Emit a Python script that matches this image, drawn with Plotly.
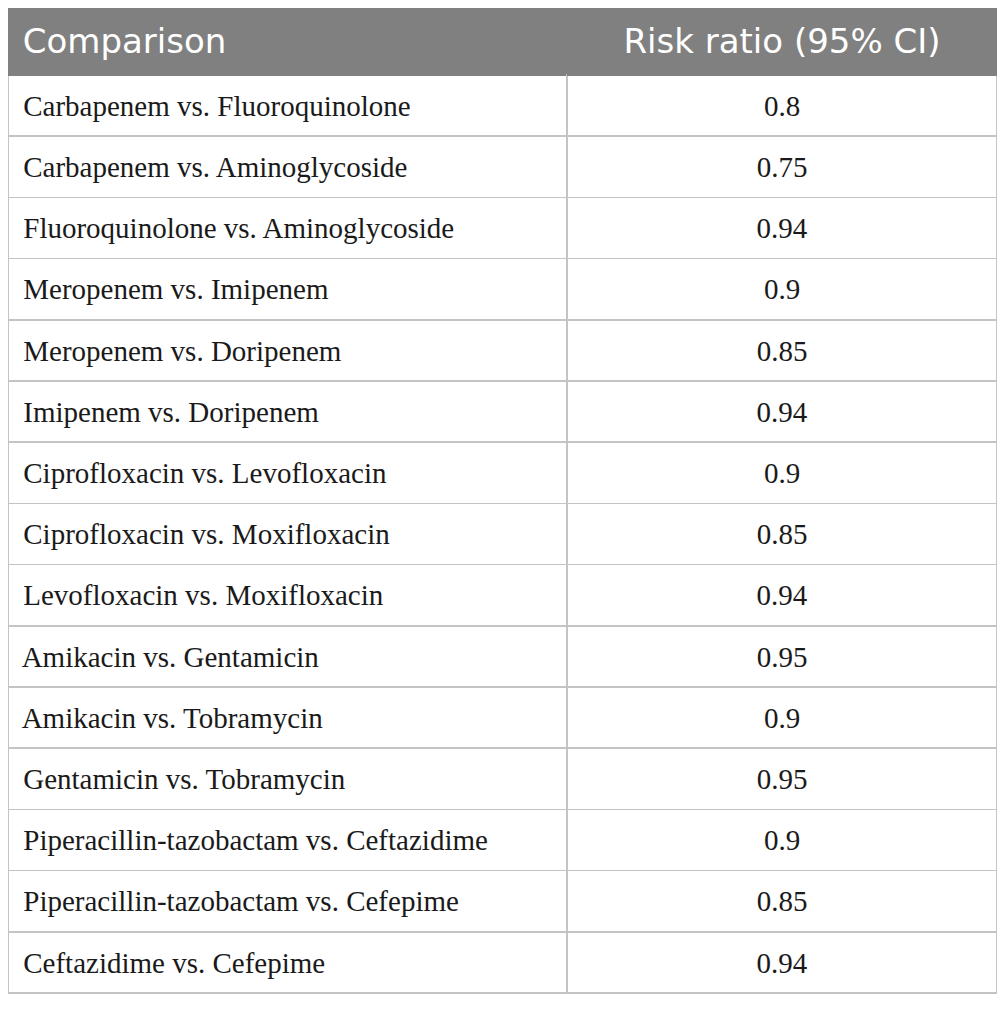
import plotly.graph_objects as go

header_labels = ["Comparison", "Risk ratio (95% CI)"]

comparisons = [
    "Carbapenem vs. Fluoroquinolone",
    "Carbapenem vs. Aminoglycoside",
    "Fluoroquinolone vs. Aminoglycoside",
    "Meropenem vs. Imipenem",
    "Meropenem vs. Doripenem",
    "Imipenem vs. Doripenem",
    "Ciprofloxacin vs. Levofloxacin",
    "Ciprofloxacin vs. Moxifloxacin",
    "Levofloxacin vs. Moxifloxacin",
    "Amikacin vs. Gentamicin",
    "Amikacin vs. Tobramycin",
    "Gentamicin vs. Tobramycin",
    "Piperacillin-tazobactam vs. Ceftazidime",
    "Piperacillin-tazobactam vs. Cefepime",
    "Ceftazidime vs. Cefepime",
]

risk_ratios = [
    "0.8", "0.75", "0.94", "0.9", "0.85", "0.94", "0.9", "0.85",
    "0.94", "0.95", "0.9", "0.95", "0.9", "0.85", "0.94",
]

# the page body has an 8px margin, so keep the figure inside the window
W, H = 989, 996
grid_color = "#c4c4c4"
header_size = 34
cell_size = 29


def lowered(text, size):
    # go.Table pins the top of the text to the cell padding, so a tiny
    # spacer line goes first; the line gap (1.3 x table font size) then
    # sets how far down the real text sits
    return ('<span style="font-size:1px">\u00a0</span><br>'
            f'<span style="font-size:{size}px">{text}</span>')


fig = go.Figure()
fig.add_trace(
    go.Table(
        columnwidth=[559, 430],
        domain=dict(x=[0, 1], y=[0, 1]),
        header=dict(
            values=[lowered("\u2009" + header_labels[0], header_size),
                    lowered(header_labels[1], header_size)],
            align=["left", "center"],
            fill_color="#808080",
            line=dict(color="#808080", width=1),
            font=dict(family="DejaVu Sans", size=27.5, color="white"),
            height=67,
        ),
        cells=dict(
            values=[[lowered(" " + c, cell_size) for c in comparisons],
                    [lowered(r, cell_size) for r in risk_ratios]],
            align=["left", "center"],
            fill_color="white",
            line=dict(color=grid_color, width=1.5),
            font=dict(family="Liberation Serif", size=24.5, color="#1a1a1a"),
            height=61.2,
        ),
    )
)

fig.update_layout(
    width=W,
    height=H,
    margin=dict(l=0, r=0, t=0, b=0),
    paper_bgcolor="white",
)

fig.write_html("out.html")
